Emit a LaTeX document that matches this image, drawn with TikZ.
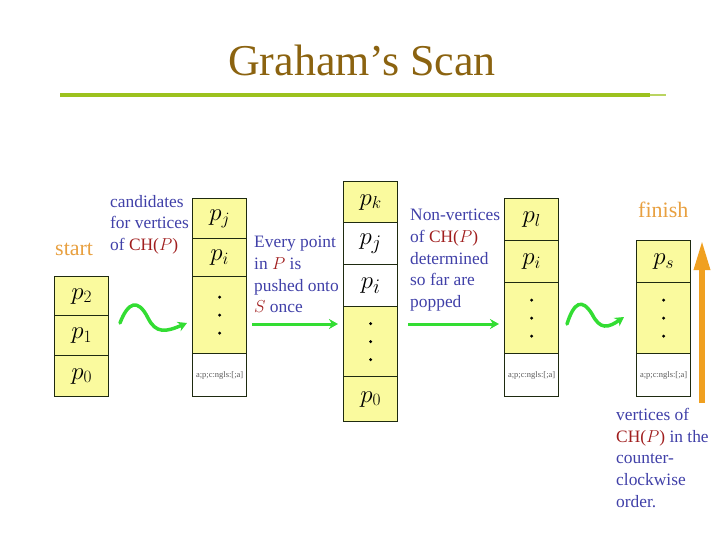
\documentclass[tikz,border=0pt]{standalone}
\usepackage{fontspec}
\setmainfont{Liberation Serif}
\usetikzlibrary{arrows.meta}
\definecolor{cellyellow}{HTML}{FAFA9E}
\definecolor{txtblue}{HTML}{4040A8}
\definecolor{txtred}{HTML}{A01E1E}
\definecolor{txtorange}{HTML}{E8A040}
\definecolor{arrorange}{HTML}{F0A020}
\definecolor{titlebrown}{HTML}{8B6310}
\definecolor{titlegreen}{HTML}{9CC21E}
\definecolor{wavegreen}{HTML}{33DD33}
\definecolor{cellborder}{HTML}{1E2A10}
\newcommand{\rd}[1]{\textcolor{txtred}{#1}}
\begin{document}
\begin{tikzpicture}[x=1pt,y=-1pt,
  cell/.style={draw=cellborder, line width=1.3pt, fill=cellyellow, minimum width=54pt, inner sep=0pt, anchor=north west, font=\fontsize{25}{27}\selectfont},
  wcell/.style={cell, fill=white},
  bigcell/.style={cell, font=\fontsize{31}{33}\selectfont},
  garb/.style={wcell, font=\fontsize{8.5}{9}\selectfont\color{black!65}},
  note/.style={anchor=north west, inner sep=0pt, align=left, text=txtblue, font=\fontsize{17.4}{21.7}\selectfont},
  label/.style={anchor=base west, inner sep=0pt, text=txtorange, font=\fontsize{22}{24}\selectfont},
  wave/.style={draw=wavegreen, line width=3.5pt, line cap=round, -{Stealth[length=9pt,width=10pt]}},
  flat/.style={draw=wavegreen, line width=3pt, -{Stealth[length=9pt,width=10pt]}},
  dot/.style={fill=black}
]
\useasboundingbox (0,0) rectangle (720,540);

% title
\node[anchor=base, inner sep=0pt, text=titlebrown, font=\fontsize{44}{48}\selectfont] (title) at (362,76) {Graham’s Scan};
\coordinate (tl) at (60,95);
\coordinate (tm) at (650,95);
\coordinate (tr) at (666,95);
\draw[titlegreen, line width=4pt] (tl) -- (tm);
\draw[titlegreen!70, line width=1.5pt] (tm) -- (tr);

% stack 1
\node[cell, minimum height=39pt] (a1) at (54,276) {$p_2$};
\node[cell, minimum height=40pt] (a2) at (54,315) {$p_1$};
\node[cell, minimum height=41pt] (a3) at (54,355) {$p_0$};

% stack 2
\node[cell, minimum height=40pt] (b1) at (192,198) {$p_j$};
\node[cell, minimum height=38pt] (b2) at (192,238) {$p_i$};
\node[cell, minimum height=77pt] (b3) at (192,276) {};
\node[garb, minimum height=43pt] (b4) at (192,353) {a;p;c:ngls:[;a]};

% stack 3
\node[cell, minimum height=41pt] (c1) at (343,181) {$p_k$};
\node[wcell, bigcell, fill=white, minimum height=42pt] (c2) at (343,222) {$p_j$};
\node[wcell, bigcell, fill=white, minimum height=42pt] (c3) at (343,264) {$p_i$};
\node[cell, minimum height=70pt] (c4) at (343,306) {};
\node[cell, minimum height=45pt] (c5) at (343,376) {$p_0$};

% stack 4
\node[cell, minimum height=42pt] (d1) at (504,198) {$p_l$};
\node[cell, minimum height=42pt] (d2) at (504,240) {$p_i$};
\node[cell, minimum height=71pt] (d3) at (504,282) {};
\node[garb, minimum height=43pt] (d4) at (504,353) {a;p;c:ngls:[;a]};

% stack 5
\node[cell, minimum height=42pt] (e1) at (636,240) {$p_s$};
\node[cell, minimum height=71pt] (e2) at (636,282) {};
\node[garb, minimum height=43pt] (e3) at (636,353) {a;p;c:ngls:[;a]};

% dots
\foreach \n in {b3,c4,d3,e2}{
  \fill[dot] (\n.center) circle (1.6pt);
  \fill[dot] ([yshift=18pt]\n.center) circle (1.6pt);
  \fill[dot] ([yshift=-18pt]\n.center) circle (1.6pt);
}

% labels
\node[label] (start) at (55,255) {start};
\node[label] (finish) at (638,218) {finish};

\node[note] (n1) at (110,195) {candidates\\for vertices\\of \rd{CH($P$)}};
\node[note] (n2) at (254,236) {Every point\\in \rd{$P$} is\\pushed onto\\\rd{$S$} once};
\node[note] (n3) at (410,209) {Non-vertices\\of \rd{CH($P$)}\\determined\\so far are\\popped};
\node[note] (n4) at (616,408) {vertices of\\\rd{CH($P$)} in the\\counter-\\clockwise\\order.};

% wavy arrows
\coordinate (w1s) at (120,323);
\coordinate (w1e) at (187,323);
\draw[wave] (w1s) .. controls (128,302) and (138,298) .. (148,318)
  .. controls (156,334) and (166,332) .. (w1e);
\coordinate (w2s) at (567,324);
\coordinate (w2e) at (624,317);
\draw[wave] (w2s) .. controls (574,302) and (582,298) .. (592,314)
  .. controls (600,330) and (608,328) .. (w2e);

% straight arrows
\coordinate (f1s) at (252,324);
\coordinate (f1e) at (338,324);
\draw[flat] (f1s) -- (f1e);
\coordinate (f2s) at (408,324);
\coordinate (f2e) at (499,324);
\draw[flat] (f2s) -- (f2e);

% orange arrow
\coordinate (os) at (702,403);
\coordinate (oe) at (702,240);
\draw[arrorange, line width=6pt, -{Triangle[length=30pt,width=15pt]}] (os) -- (oe);
\end{tikzpicture}
\end{document}
